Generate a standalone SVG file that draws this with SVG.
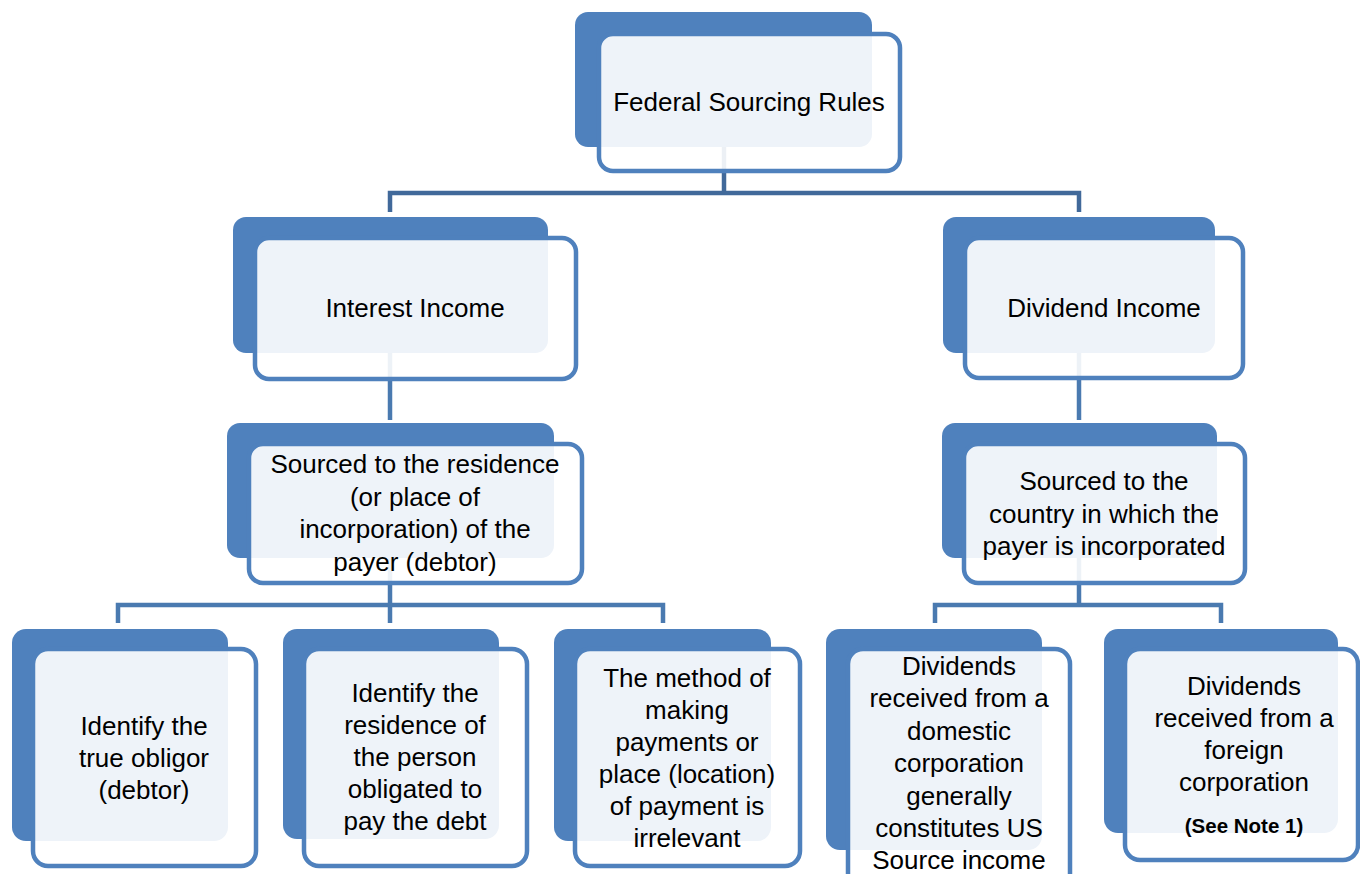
<svg xmlns="http://www.w3.org/2000/svg" width="1360" height="874" viewBox="0 0 1360 874">
<style>
.bg{fill:#ffffff}
.back{fill:#4F81BD}
.front{fill:#ffffff;fill-opacity:0.9;stroke:#4F81BD;stroke-width:4.5}
.conn{fill:none;stroke:#4A7AB0;stroke-width:4.5;stroke-linejoin:miter}
.conn0{fill:none;stroke:#41699A;stroke-width:4.5}
text{font-family:"Liberation Sans",Arial,sans-serif;font-size:26px;fill:#000;text-anchor:middle}
.note{font-weight:bold;font-size:20.5px}
</style>
<rect class="bg" x="0" y="0" width="1360" height="874"/>
<g id="connectors">
<path class="conn0" d="M724 147 V193"/>
<path class="conn0" d="M390 212 V193 H1079 V212"/>
<path class="conn" d="M390 353 V420"/>
<path class="conn" d="M1079 353 V420"/>
<path class="conn" d="M390 558 V623"/>
<path class="conn" d="M118 623 V605 H663 V623"/>
<path class="conn" d="M1079 558 V605"/>
<path class="conn" d="M935 623 V605 H1221 V623"/>
</g>
<g id="node-federal">
<rect class="back" x="575" y="12" width="297" height="135" rx="13"/>
<rect class="front" x="599" y="34" width="301" height="137" rx="14"/>
<text x="749" y="111">Federal Sourcing Rules</text>
</g>
<g id="node-interest">
<rect class="back" x="233" y="217" width="315" height="136" rx="13"/>
<rect class="front" x="255" y="238" width="321" height="141" rx="14"/>
<text x="415" y="317">Interest Income</text>
</g>
<g id="node-dividend">
<rect class="back" x="943" y="217" width="272" height="136" rx="13"/>
<rect class="front" x="965" y="238" width="278" height="140" rx="14"/>
<text x="1104" y="317">Dividend Income</text>
</g>
<g id="node-interest-source">
<rect class="back" x="227" y="423" width="327" height="135" rx="13"/>
<rect class="front" x="249" y="444" width="333" height="139" rx="14"/>
<text x="415" y="473">Sourced to the residence</text>
<text x="415" y="506">(or place of</text>
<text x="415" y="538">incorporation) of the</text>
<text x="415" y="571">payer (debtor)</text>
</g>
<g id="node-dividend-source">
<rect class="back" x="942" y="423" width="275" height="135" rx="13"/>
<rect class="front" x="964" y="444" width="281" height="139" rx="14"/>
<text x="1104" y="490">Sourced to the</text>
<text x="1104" y="523">country in which the</text>
<text x="1104" y="555">payer is incorporated</text>
</g>
<g id="node-obligor">
<rect class="back" x="12" y="629" width="216" height="212" rx="14"/>
<rect class="front" x="33" y="649" width="223" height="217" rx="15"/>
<text x="144" y="735">Identify the</text>
<text x="144" y="767">true obligor</text>
<text x="144" y="799">(debtor)</text>
</g>
<g id="node-residence">
<rect class="back" x="283" y="629" width="216" height="210" rx="14"/>
<rect class="front" x="304" y="649" width="223" height="217" rx="15"/>
<text x="415" y="702">Identify the</text>
<text x="415" y="734">residence of</text>
<text x="415" y="766">the person</text>
<text x="415" y="798">obligated to</text>
<text x="415" y="830">pay the debt</text>
</g>
<g id="node-method">
<rect class="back" x="554" y="629" width="217" height="212" rx="14"/>
<rect class="front" x="575" y="649" width="225" height="217" rx="15"/>
<text x="687" y="687">The method of</text>
<text x="687" y="719">making</text>
<text x="687" y="751">payments or</text>
<text x="687" y="783">place (location)</text>
<text x="687" y="815">of payment is</text>
<text x="687" y="847">irrelevant</text>
</g>
<g id="node-domestic">
<rect class="back" x="826" y="629" width="216" height="221" rx="14"/>
<rect class="front" x="848" y="649" width="222" height="240" rx="15"/>
<text x="959" y="675">Dividends</text>
<text x="959" y="707">received from a</text>
<text x="959" y="740">domestic</text>
<text x="959" y="772">corporation</text>
<text x="959" y="805">generally</text>
<text x="959" y="837">constitutes US</text>
<text x="959" y="869">Source income</text>
</g>
<g id="node-foreign">
<rect class="back" x="1104" y="629" width="234" height="204" rx="14"/>
<rect class="front" x="1125" y="649" width="233" height="211" rx="15"/>
<text x="1244" y="695">Dividends</text>
<text x="1244" y="727">received from a</text>
<text x="1244" y="759">foreign</text>
<text x="1244" y="791">corporation</text>
<text class="note" x="1244" y="833">(See Note 1)</text>
</g>
</svg>
